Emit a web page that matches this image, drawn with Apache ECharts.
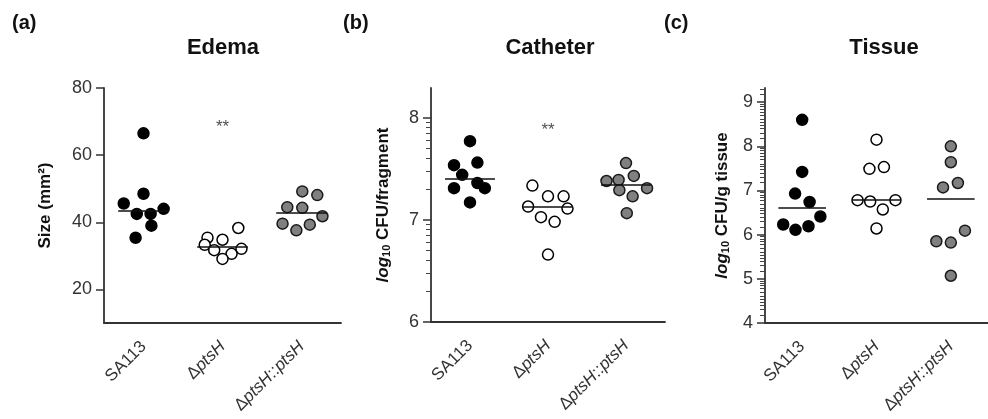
<!DOCTYPE html>
<html>
<head>
<meta charset="utf-8">
<script src="https://cdn.jsdelivr.net/npm/echarts@6/dist/echarts.min.js"></script>
<style>
html, body { margin: 0; background: #fff; }
#chart { width: 988px; height: 419px; }
</style>
</head>
<body>
<div id="chart"></div>
<script>
// groups on the x axis of every panel
const groups = ['SA113', 'ΔptsH', 'ΔptsH::ptsH'];

// (a) edema size, mm2 - one list per group
const edemaValues = [
  [66.5, 48.5, 45.6, 42.5, 42.5, 44.0, 39.0, 35.4],
  [38.3, 35.4, 34.8, 33.3, 31.7, 32.1, 30.6, 29.1],
  [49.2, 48.1, 44.5, 44.3, 41.8, 39.6, 39.3, 37.6]
];
// horizontal scatter of the dots, in category widths
const edemaJitter = [
  [0, 0, -0.25, -0.085, 0.09, 0.255, 0.1, -0.1],
  [0.2, -0.19, 0, -0.225, -0.105, 0.24, 0.115, 0],
  [0.01, 0.2, -0.18, 0.01, 0.265, -0.24, 0.105, -0.065]
];
const edemaMedians = [43.3, 32.8, 42.9];
const edemaTicks = [20, 40, 60, 80];
const edemaSig = 68.3;

// (b) catheter, log10 CFU/fragment
const catheterValues = [
  [7.77, 7.535, 7.56, 7.44, 7.31, 7.36, 7.31, 7.17],
  [7.335, 7.23, 7.23, 7.13, 7.11, 7.026, 6.98, 6.66],
  [7.555, 7.43, 7.38, 7.39, 7.29, 7.31, 7.23, 7.065]
];
const catheterJitter = [
  [0, -0.205, 0.095, -0.1, -0.205, 0.095, 0.19, 0],
  [-0.2, 0, 0.2, -0.255, 0.25, -0.09, 0.085, 0],
  [0, 0.1, -0.25, -0.095, -0.085, 0.27, 0.085, 0.01]
];
const catheterMedians = [7.40, 7.125, 7.34];
const catheterTicks = [6, 7, 8];
const catheterSig = 7.88;

// (c) tissue, log10 CFU/g tissue
const tissueValues = [
  [8.60, 7.42, 6.93, 6.74, 6.41, 6.23, 6.19, 6.11],
  [8.15, 7.49, 7.53, 6.78, 6.75, 6.78, 6.57, 6.14],
  [8.0, 7.64, 7.17, 7.07, 6.09, 5.85, 5.82, 5.07]
];
const tissueJitter = [
  [0, 0, -0.095, 0.1, 0.245, -0.255, 0.085, -0.09],
  [0, -0.095, 0.1, -0.255, -0.085, 0.255, 0.085, 0],
  [0, 0, 0.095, -0.105, 0.19, -0.195, 0, 0]
];
const tissueMedians = [6.62, 6.79, 6.81];
const tissueTicks = [4, 5, 6, 7, 8, 9];

const FONT = 'Liberation Sans, Arial, sans-serif';
const AXIS = '#333';

// log-style minor ticks between the whole numbers
function logMinor(lo, hi, steps) {
  const out = [];
  for (let n = lo; n < hi; n++) {
    steps.forEach(k => {
      const v = n + Math.log10(k);
      if (v < hi) out.push(v);
    });
  }
  return out;
}

const groupStyles = [
  { color: '#000', borderColor: '#000' },
  { color: '#fff', borderColor: '#000' },
  { color: '#808080', borderColor: '#1a1a1a' }
];

const panels = [
  {
    tag: '(a)', tagX: 12, title: 'Edema', titleX: 223,
    name: 'Size (mm²)', nameGap: 50,
    values: edemaValues, jitter: edemaJitter, medians: edemaMedians,
    ticks: edemaTicks, min: 10, max: 80, minor: [], sig: edemaSig,
    grid: { left: 104, top: 88, width: 237, height: 235 }
  },
  {
    tag: '(b)', tagX: 343, title: 'Catheter', titleX: 550,
    name: '{i|log}{s|10}{b| CFU/fragment}', nameGap: 39,
    values: catheterValues, jitter: catheterJitter, medians: catheterMedians,
    ticks: catheterTicks, min: 6, max: 8.29,
    minor: logMinor(6, 8.29, [2, 3, 4, 5, 6, 7, 8, 9]), sig: catheterSig,
    grid: { left: 431, top: 88, width: 234, height: 234 }
  },
  {
    tag: '(c)', tagX: 664, title: 'Tissue', titleX: 884,
    name: '{i|log}{s|10}{b| CFU/g tissue}', nameGap: 34,
    values: tissueValues, jitter: tissueJitter, medians: tissueMedians,
    ticks: tissueTicks, min: 4, max: 9.32,
    minor: logMinor(4, 9.32, [1.5, 2, 2.5, 3, 3.5, 4, 5, 6, 7, 8, 9]),
    sig: null,
    grid: { left: 765, top: 88, width: 236, height: 235 }
  }
];

const grid = [], xAxis = [], yAxis = [], series = [], graphic = [];

panels.forEach((p, pi) => {
  grid.push(p.grid);
  xAxis.push({
    type: 'category', gridIndex: pi, data: groups, boundaryGap: true,
    axisLine: { onZero: false, lineStyle: { color: AXIS, width: 1.8 } },
    axisTick: { alignWithLabel: true, length: 8, lineStyle: { color: AXIS, width: 1.5 } },
    axisLabel: {
      rotate: 45, fontSize: 17, color: '#333', fontFamily: FONT, margin: 21,
      formatter: v => v.replace(/ptsH/g, '{i|ptsH}'),
      rich: { i: { fontStyle: 'italic', fontSize: 17, color: '#333', fontFamily: FONT } }
    }
  });
  const valX = xAxis.length;
  xAxis.push({ type: 'value', gridIndex: pi, min: -0.5, max: 2.5, show: false });

  const mainY = yAxis.length;
  yAxis.push({
    type: 'value', gridIndex: pi, min: p.min, max: p.max, position: 'left',
    name: p.name, nameLocation: 'middle', nameRotate: 90, nameGap: p.nameGap,
    nameTextStyle: {
      fontSize: 17, fontWeight: 'bold', color: '#111', fontFamily: FONT,
      rich: {
        i: { fontSize: 17, fontWeight: 'bold', fontStyle: 'italic', color: '#111', fontFamily: FONT },
        s: { fontSize: 11, fontWeight: 'bold', color: '#111', fontFamily: FONT, verticalAlign: 'bottom' },
        b: { fontSize: 17, fontWeight: 'bold', color: '#111', fontFamily: FONT }
      }
    },
    splitLine: { show: false },
    axisLine: { show: true, onZero: false, lineStyle: { color: AXIS, width: 1.8 } },
    axisTick: { show: true, length: 8, customValues: p.ticks, lineStyle: { color: AXIS, width: 1.5 } },
    axisLabel: { customValues: p.ticks, fontSize: 18, color: '#333', fontFamily: FONT, margin: 12 }
  });
  if (p.minor.length) {
    yAxis.push({
      type: 'value', gridIndex: pi, min: p.min, max: p.max, position: 'left',
      splitLine: { show: false },
      axisLine: { show: false, onZero: false },
      axisLabel: { show: false },
      axisTick: { show: true, length: 5, customValues: p.minor, lineStyle: { color: '#444', width: 1 } }
    });
  }

  p.values.forEach((vals, gi) => {
    series.push({
      type: 'scatter', xAxisIndex: valX, yAxisIndex: mainY,
      symbol: 'circle', symbolSize: 11,
      itemStyle: Object.assign({ borderWidth: 1.5, opacity: 1 }, groupStyles[gi]),
      data: vals.map((v, j) => [gi + p.jitter[gi][j], v]),
      markLine: {
        silent: true, symbol: 'none', label: { show: false },
        lineStyle: { color: '#111', width: 1.6, type: 'solid' },
        data: [[{ coord: [gi - 0.32, p.medians[gi]] }, { coord: [gi + 0.32, p.medians[gi]] }]]
      }
    });
  });

  if (p.sig !== null) {
    series.push({
      type: 'scatter', xAxisIndex: valX, yAxisIndex: mainY,
      symbolSize: 2, itemStyle: { color: 'rgba(0,0,0,0)' },
      data: [[1, p.sig]],
      label: { show: true, position: 'inside', formatter: '**', fontSize: 17, color: '#222', fontFamily: FONT }
    });
  }

  graphic.push({
    type: 'text', left: p.tagX, top: 13,
    style: { text: p.tag, font: 'bold 20px ' + FONT, fill: '#111' }
  });
  graphic.push({
    type: 'text', x: p.titleX, y: 48,
    style: { text: p.title, font: 'bold 22px ' + FONT, fill: '#111', align: 'center', verticalAlign: 'middle' }
  });
});

const chart = echarts.init(document.getElementById('chart'));
chart.setOption({
  animation: false,
  backgroundColor: '#fff',
  textStyle: { fontFamily: FONT },
  grid, xAxis, yAxis, series, graphic
});
</script>
</body>
</html>
